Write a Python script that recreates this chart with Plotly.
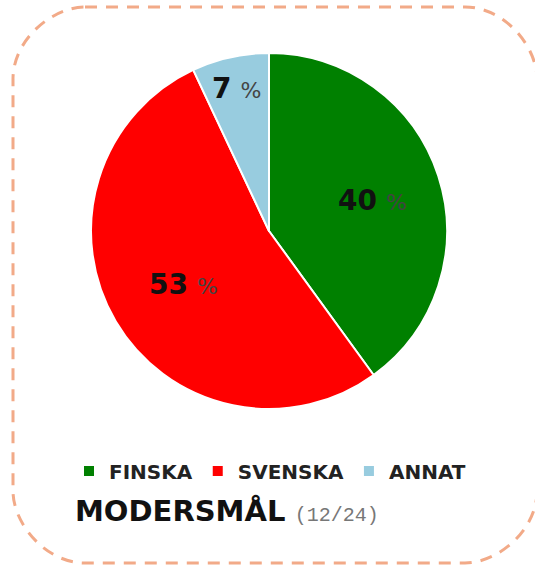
import math
import plotly.graph_objects as go

W, H = 535, 566

labels = ["FINSKA", "SVENSKA", "ANNAT"]
values = [40, 53, 7]
colors = ["#008000", "#FF0000", "#98CCDF"]
label_radius = [0.61, 0.56, 0.84]   # fraction of pie radius for the % labels

GEO = "DejaVu Sans"
BORDER = "#F2AA88"

# pie box in pixels (left, top, right, bottom)
PL, PT, PR, PB = 91, 53, 447, 409


def px(x):
    return x / W


def py(y):
    return 1 - y / H


fig = go.Figure()
fig.add_trace(go.Pie(
    labels=labels, values=values, sort=False, direction="clockwise", rotation=0,
    marker=dict(colors=colors, line=dict(color="white", width=2)),
    textinfo="none",
    domain=dict(x=[px(PL), px(PR)], y=[py(PB), py(PT)]),
    hovertemplate="%{label}: %{value} %<extra></extra>",
))

# percentage labels placed along each slice's mid-angle
cx, cy, r = (PL + PR) / 2, (PT + PB) / 2, (PR - PL) / 2
total = sum(values)
cum = 0
for v, f in zip(values, label_radius):
    mid = math.radians(360 * (cum + v / 2) / total)
    cum += v
    fig.add_annotation(
        xref="paper", yref="paper",
        x=px(cx + r * f * math.sin(mid)), y=py(cy - r * f * math.cos(mid) + 3),
        xanchor="center", yanchor="middle", showarrow=False,
        text=f"<b>{v}</b> <span style='font-size:22px;color:#444'>%</span>",
        font=dict(family=GEO, size=28, color="#111"))

# rounded dashed frame
x0, x1, y0, y1 = px(13), px(537), py(563), py(7)
rx, ry = 72 / W, 72 / H
k = 0.45
path = (f"M {x0+rx},{y1} L {x1-rx},{y1} "
        f"C {x1-rx*k},{y1} {x1},{y1-ry*(1-k)} {x1},{y1-ry} "
        f"L {x1},{y0+ry} "
        f"C {x1},{y0+ry*k} {x1-rx*(1-k)},{y0} {x1-rx},{y0} "
        f"L {x0+rx},{y0} "
        f"C {x0+rx*k},{y0} {x0},{y0+ry*(1-k)} {x0},{y0+ry} "
        f"L {x0},{y1-ry} "
        f"C {x0},{y1-ry*k} {x0+rx*(1-k)},{y1} {x0+rx},{y1} Z")
fig.add_shape(type="path", xref="paper", yref="paper", path=path,
              line=dict(color=BORDER, width=3, dash="12px,9px"), layer="below")

fig.add_annotation(xref="paper", yref="paper", x=px(73), y=py(511), xanchor="left",
                   yanchor="middle", showarrow=False,
                   text="<b>MODERSMÅL</b> <span style='font-family:Liberation Mono;font-size:20px;color:#777'>(12/24)</span>",
                   font=dict(family=GEO, size=29, color="#111"))

fig.update_layout(
    width=W, height=H, margin=dict(l=0, r=0, t=0, b=0),
    paper_bgcolor="white", plot_bgcolor="white",
    showlegend=True,
    legend=dict(orientation="h", x=px(270), xanchor="center", y=py(471), yanchor="middle",
                font=dict(family=GEO, size=20, color="#222", weight="bold"),
                itemwidth=30, traceorder="normal"),
)

fig.write_html("out.html", config={"displayModeBar": False},
               post_script="document.body.style.margin='0px';")
